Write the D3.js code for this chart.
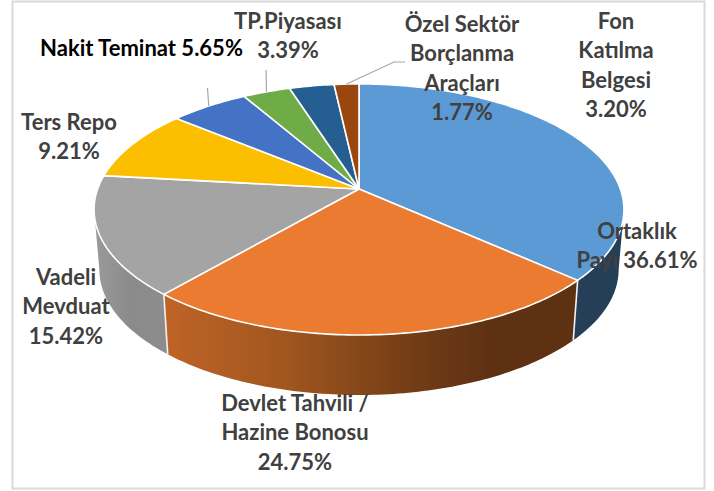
<!DOCTYPE html>
<html>
<head>
<meta charset="utf-8">
<script src="https://cdn.jsdelivr.net/npm/d3@7"></script>
<style>
  html, body { margin: 0; padding: 0; background: #fff; }
  svg { display: block; }
  text { font-family: Lato, "Open Sans", sans-serif; font-weight: 700; }
</style>
</head>
<body>
<svg width="714" height="491"></svg>
<script>
// data
const categories = [
  "Ortaklık Payı",
  "Devlet Tahvili / Hazine Bonosu",
  "Vadeli Mevduat",
  "Ters Repo",
  "Nakit Teminat",
  "TP.Piyasası",
  "Fon Katılma Belgesi",
  "Özel Sektör Borçlanma Araçları"
];
const shares = [36.61, 24.75, 15.42, 9.21, 5.65, 3.39, 3.2, 1.77];
const colors = ["#5b9ad5", "#ea7b30", "#a4a4a4", "#fcbe00", "#4472c4", "#6fac47", "#255e91", "#9a470f"];
const labelLines = [
  ["Ortaklık", "Payı 36.61%"],
  ["Devlet Tahvili /", "Hazine Bonosu", "24.75%"],
  ["Vadeli", "Mevduat", "15.42%"],
  ["Ters Repo", "9.21%"],
  ["Nakit Teminat 5.65%"],
  ["TP.Piyasası", "3.39%"],
  ["Fon", "Katılma", "Belgesi", "3.20%"],
  ["Özel Sektör", "Borçlanma", "Araçları", "1.77%"]
];

// layout, same order as the categories
const labelCenters = [
  [637, 231], [295, 403], [66, 277], [69, 122],
  [141.5, 48], [288, 21], [616, 21], [462, 24]
];

const width = 714;
const height = 491;
const svg = d3.select("svg");

// pie is seen in perspective, so the apex sits above the middle of the ellipse
const cx = 359;
const apexY = 189;
const radiusX = 261.4;
const radiusY = 122.2;
const tilt = -0.163;
const depth = 60;
const bottomScale = 0.98;

function project(angle, lower) {
  const c = Math.sin(angle);
  const s = -Math.cos(angle);
  const w = 1 + tilt * s;
  const x = (radiusX * c) / w;
  const y = (radiusY * s) / w;
  return lower
    ? [cx + x * bottomScale, apexY + depth + y]
    : [cx + x, apexY + y];
}

function rim(a0, a1, lower) {
  const n = Math.max(2, Math.ceil(Math.abs(a1 - a0) * 60));
  return d3.range(n + 1).map(i => project(a0 + ((a1 - a0) * i) / n, lower));
}

const pie = d3.pie().sort(null).value(d => d);
const arcs = pie(shares);
const line = d3.line();

const defs = svg.append("defs");
const orangeWall = defs
  .append("linearGradient")
  .attr("id", "orangeWall")
  .attr("gradientUnits", "userSpaceOnUse")
  .attr("x1", 162).attr("x2", 578).attr("y1", 0).attr("y2", 0);
[[0, "#bf6427"], [0.3, "#a0561f"], [0.6, "#733d16"], [0.78, "#5f3113"], [1, "#5f3113"]].forEach(d => {
  orangeWall.append("stop").attr("offset", d[0]).attr("stop-color", d[1]);
});
const greyWall = defs
  .append("linearGradient")
  .attr("id", "greyWall")
  .attr("gradientUnits", "userSpaceOnUse")
  .attr("x1", 95).attr("x2", 165).attr("y1", 0).attr("y2", 0);
[[0, "#9a9a9a"], [0.5, "#8b8b8b"], [1, "#8c8c8c"]].forEach(d => {
  greyWall.append("stop").attr("offset", d[0]).attr("stop-color", d[1]);
});

// frame
svg.append("rect")
  .attr("x", 12.5).attr("y", 1.5)
  .attr("width", 692).attr("height", 487)
  .attr("fill", "#fff")
  .attr("stroke", "#d9d9d9")
  .attr("stroke-width", 2);

// side walls, only the part of the rim that faces the viewer
const edgeAngle = Math.acos(tilt);
const wallFill = ["#243f57", "url(#orangeWall)", "url(#greyWall)"];
arcs.slice(0, 3).forEach((d, i) => {
  const a0 = Math.max(d.startAngle, edgeAngle);
  const a1 = Math.min(d.endAngle, 2 * Math.PI - edgeAngle);
  const points = rim(a0, a1, false).concat(rim(a1, a0, true));
  svg.append("path")
    .attr("d", line(points) + "Z")
    .attr("fill", wallFill[i])
    .attr("stroke", "none");
});

// white seams between the walls
[arcs[0].endAngle, arcs[1].endAngle].forEach(a => {
  svg.append("path")
    .attr("d", line([project(a, false), project(a, true)]))
    .attr("stroke", "#f2f2f2")
    .attr("stroke-width", 1.6)
    .attr("fill", "none");
});

// top face
svg.append("g")
  .selectAll("path")
  .data(arcs)
  .enter()
  .append("path")
  .attr("d", d => line([[cx, apexY]].concat(rim(d.startAngle, d.endAngle, false))) + "Z")
  .attr("fill", (d, i) => colors[i])
  .attr("stroke", "#fff")
  .attr("stroke-width", 1.6)
  .attr("stroke-linejoin", "round");

// leader lines
const mid = d => (d.startAngle + d.endAngle) / 2;
const leaders = [
  { arc: arcs[4], to: [[207.5, 88]] },
  { arc: arcs[5], to: [[266, 70]] },
  { arc: arcs[7], to: [[394, 62], [405, 62]] }
];
leaders.forEach(l => {
  svg.append("path")
    .attr("d", line([project(mid(l.arc), false)].concat(l.to)))
    .attr("fill", "none")
    .attr("stroke", "#a6a6a6")
    .attr("stroke-width", 1.2);
});

// labels
const lineHeight = 29.5;
labelLines.forEach((lines, i) => {
  const text = svg.append("text")
    .attr("text-anchor", "middle")
    .attr("font-size", 22)
    .attr("fill", i === 4 ? "#000" : "#404040");
  lines.forEach((t, j) => {
    text.append("tspan")
      .attr("x", labelCenters[i][0])
      .attr("y", labelCenters[i][1] + j * lineHeight + 7.5)
      .text(t);
  });
});
</script>
</body>
</html>
